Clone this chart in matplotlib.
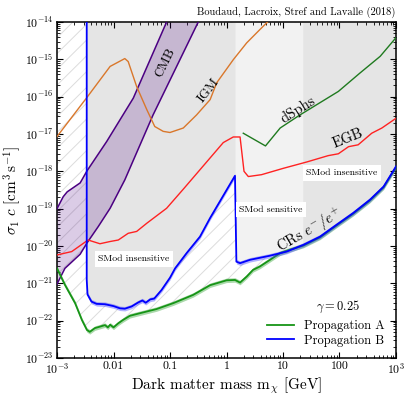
import numpy as np
import matplotlib
matplotlib.use("Agg")
import matplotlib.pyplot as plt
from matplotlib.lines import Line2D

plt.rcParams["font.family"] = "serif"
plt.rcParams["font.serif"] = ["cmr10", "DejaVu Serif"]
plt.rcParams["mathtext.fontset"] = "cm"
plt.rcParams["axes.formatter.use_mathtext"] = True

# ---- data (log10 m [GeV], log10 sigma c [cm^3 s^-1]) ----
cmb_up_m = [-3.0, -2.89, -2.82, -2.59, -2.47, -2.12, -1.65, -1.06]
cmb_up_s = [-19.0, -18.68, -18.55, -18.31, -17.99, -17.2, -16.04, -14.0]
cmb_lo_m = [-3.0, -2.86, -2.59, -2.47, -2.27, -2.06, -1.80, -1.30, -0.50]
cmb_lo_s = [-21.02, -20.6, -20.22, -19.92, -19.48, -18.99, -18.23, -16.49, -14.0]

igm_m = [-3.0, -2.46, -2.06, -1.80, -1.74, -1.59, -1.41, -1.27, -1.12, -1.0,
         -0.765, -0.53, -0.29, -0.174, 0.12, 0.357, 0.593, 0.74]
igm_s = [-17.07, -16.0, -15.19, -14.98, -15.06, -15.73, -16.35, -16.8, -16.93, -16.96,
         -16.84, -16.49, -16.08, -15.63, -15.01, -14.56, -14.2, -13.98]

egb_m = [-3.0, -2.74, -2.45, -2.24, -2.06, -1.915, -1.74, -1.59, -1.41, -1.06, -0.76,
         -0.057, 0.12, 0.24, 0.31, 0.386, 0.62, 1.005, 1.42, 1.8, 1.98, 2.16, 2.33,
         2.57, 2.75, 3.0]
egb_s = [-20.24, -20.15, -19.84, -19.94, -19.88, -19.84, -19.66, -19.61, -19.39, -18.99,
         -18.47, -17.23, -17.08, -17.08, -18.0, -18.14, -18.09, -17.92, -17.75, -17.58,
         -17.53, -17.34, -17.29, -16.98, -16.84, -16.58]

dsph_m = [0.297, 0.69, 0.95, 1.30, 1.98, 2.36, 2.72, 3.0]
dsph_s = [-16.98, -17.32, -16.84, -16.49, -15.86, -15.37, -14.92, -14.42]

propB_m = [-2.474, -2.474, -2.46, -2.39, -2.30, -2.15, -2.0, -1.885, -1.80, -1.68, -1.56,
           -1.49, -1.43, -1.35, -1.28, -1.15, -1.0, -0.91, -0.705, -0.469, -0.29, 0.15,
           0.175, 0.24, 0.416, 0.77, 1.065, 1.36, 1.655, 1.95, 2.24, 2.54, 2.78, 3.0]
propB_s = [-14.0, -20.9, -21.3, -21.49, -21.55, -21.56, -21.61, -21.67, -21.68, -21.62,
           -21.51, -21.46, -21.52, -21.43, -21.41, -21.18, -20.85, -20.6, -20.19, -19.75,
           -19.25, -18.12, -20.42, -20.46, -20.37, -20.26, -20.15, -19.97, -19.75, -19.43,
           -19.12, -18.76, -18.41, -17.87]

propA_m = [-3.0, -2.86, -2.68, -2.56, -2.47, -2.42, -2.33, -2.24, -2.15, -2.10, -2.06,
           -2.0, -1.915, -1.83, -1.71, -1.53, -1.24, -0.94, -0.59, -0.29, 0.0, 0.15, 0.24,
           0.357, 0.47, 0.59, 0.77, 0.95, 1.12, 1.36, 1.655, 1.95, 2.24, 2.54, 2.78, 3.0]
propA_s = [-20.6, -21.04, -21.53, -21.98, -22.25, -22.3, -22.2, -22.16, -22.12, -22.18,
           -22.11, -22.18, -22.07, -21.98, -21.87, -21.8, -21.69, -21.53, -21.31, -21.05,
           -20.92, -20.91, -20.98, -20.82, -20.64, -20.55, -20.37, -20.19, -20.1, -19.99,
           -19.77, -19.45, -19.14, -18.78, -18.43, -17.89]
band_halfwidth = 0.06  # decades, propagation uncertainty

smod_sens_range = [0.15, 1.35]  # log10 m of the "SMod sensitive" strip

xtick_vals = [1e-3, 1e-2, 1e-1, 1, 10, 100, 1e3]
xtick_labs = [r"$10^{-3}$", "0.01", "0.1", "1", "10", "100", r"$10^{3}$"]

P = lambda a: 10.0 ** np.asarray(a, float)
TOP = 1e-14

fig = plt.figure(figsize=(4.11, 3.99), dpi=100)
ax = fig.add_axes([0.1387, 0.1028, 0.8248, 0.8421])
ax.set_xscale("log"); ax.set_yscale("log")
ax.set_xlim(1e-3, 1e3); ax.set_ylim(1e-23, 1e-14)

# hatched: excluded with propagation A (diagonal lines clipped to the region)
regA = ax.fill_between(P(propA_m), P(propA_s), TOP, facecolor="none", linewidth=0, zorder=0.4)
for c in np.arange(-1.0, 1.0, 0.047):
    ln, = ax.plot([c, c + 1.2], [0, 1.2], transform=ax.transAxes, color="#dcdcdc",
                  lw=0.7, zorder=0.5)
    ln.set_clip_path(regA.get_paths()[0], ax.transData)
# grey: excluded with propagation B
ax.fill_between(P(propB_m), P(propB_s), TOP, color="#e5e5e5", linewidth=0, zorder=1)
g = np.linspace(smod_sens_range[0], smod_sens_range[1], 300)
ax.fill_between(P(g), P(np.interp(g, propB_m[1:], propB_s[1:])), TOP, color="#f2f2f2",
                linewidth=0, zorder=1.1)

# CMB band
ax.fill(np.r_[P(cmb_up_m), P(cmb_lo_m)[::-1]], np.r_[P(cmb_up_s), P(cmb_lo_s)[::-1]],
        color="indigo", alpha=0.2, linewidth=0, zorder=2)
ax.plot(P(cmb_up_m), P(cmb_up_s), color="indigo", lw=1.1, zorder=3)
ax.plot(P(cmb_lo_m), P(cmb_lo_s), color="indigo", lw=1.1, zorder=3)

ax.plot(P(igm_m), P(igm_s), color="#d9772b", lw=1.0, zorder=3)
ax.plot(P(egb_m), P(egb_s), color="#ff2222", lw=1.0, zorder=3)
ax.plot(P(dsph_m), P(dsph_s), color="#1f7a1f", lw=1.0, zorder=3)

# propagation curves with uncertainty bands
sA = np.asarray(propA_s)
ax.fill_between(P(propA_m), P(sA - band_halfwidth), P(sA + band_halfwidth),
                color="#2ca02c", alpha=0.4, linewidth=0, zorder=3.2)
ax.plot(P(propA_m), P(propA_s), color="#169416", lw=1.3, zorder=3.5)
sB = np.asarray(propB_s[2:])
ax.fill_between(P(propB_m[2:]), P(sB - band_halfwidth), P(sB + band_halfwidth),
                color="#3f3fff", alpha=0.4, linewidth=0, zorder=3.6)
ax.plot(P(propB_m), P(propB_s), color="blue", lw=1.3, zorder=3.8)

# labels
kw = dict(fontsize=9.5, ha="center", va="center", zorder=5)
ax.text(0.082, 10**-15.1, "CMB", rotation=64, **kw)
ax.text(0.48, 10**-15.82, "IGM", rotation=52, **kw)
ax.text(18.7, 10**-16.35, "dSphs", rotation=32, fontsize=10.5, ha="center", va="center")
ax.text(143, 10**-17.11, "EGB", rotation=22, fontsize=10.5, ha="center", va="center")
ax.text(30, 10**-19.57, r"CRs $e^{-}/e^{+}$", rotation=30, fontsize=10.5, ha="center",
        va="center", zorder=5)
box = dict(facecolor="white", edgecolor="none", pad=2.5)
skw = dict(fontsize=7, ha="center", va="center", zorder=5, bbox=box)
ax.text(0.023, 10**-20.35, "SMod insensitive", **skw)
ax.text(6.1, 10**-19.03, "SMod sensitive", **skw)
ax.text(110, 10**-18.05, "SMod insensitive", **skw)
ax.text(93, 10**-21.63, r"$\gamma = 0.25$", fontsize=9, ha="center", va="center")

handles = [Line2D([], [], color="#169416", lw=1.3), Line2D([], [], color="blue", lw=1.3)]
ax.legend(handles, ["Propagation A", "Propagation B"], loc="lower right", frameon=False,
          fontsize=9, handlelength=2.2, borderaxespad=0.5, labelspacing=0.2)

ax.set_xticks(xtick_vals, xtick_labs)
ax.tick_params(which="both", direction="in", top=True, right=True, labelsize=8.5, pad=2.5)
ax.tick_params(which="major", length=4, width=0.8)
ax.tick_params(which="minor", length=2, width=0.6)
ax.yaxis.set_major_locator(matplotlib.ticker.LogLocator(base=10, numticks=20))
ax.yaxis.set_minor_locator(matplotlib.ticker.LogLocator(base=10, subs=np.arange(2, 10), numticks=20))
for s in ax.spines.values():
    s.set_linewidth(1.1)
ax.set_xlabel(r"Dark matter mass m$_\chi$ [GeV]", fontsize=11)
ax.set_ylabel(r"$\sigma_1\ c\ [\mathrm{cm}^3\,\mathrm{s}^{-1}]$", fontsize=11)
ax.xaxis.set_label_coords(0.5, -0.052)
ax.yaxis.set_label_coords(-0.10, 0.5)
fig.text(0.961, 0.968, "Boudaud, Lacroix, Stref and Lavalle (2018)", fontsize=7.5,
         ha="right", va="center")

fig.savefig("out.png", dpi=100)
